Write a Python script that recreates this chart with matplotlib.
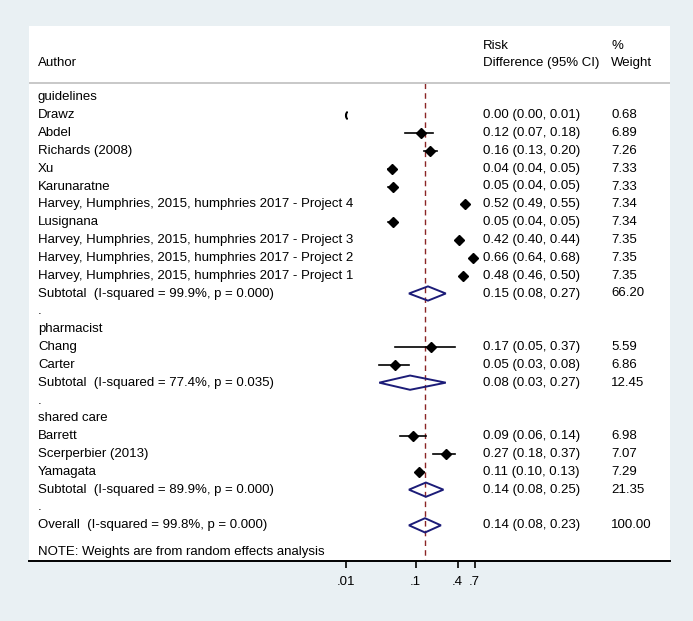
import numpy as np
import matplotlib
matplotlib.use("Agg")
import matplotlib.pyplot as plt
import matplotlib.transforms as mtransforms

plt.rcParams['font.family'] = ['Liberation Sans', 'DejaVu Sans']

# ---- data ----
labels = [
    "guidelines", "Drawz", "Abdel", "Richards (2008)", "Xu", "Karunaratne",
    "Harvey, Humphries, 2015, humphries 2017 - Project 4", "Lusignana",
    "Harvey, Humphries, 2015, humphries 2017 - Project 3",
    "Harvey, Humphries, 2015, humphries 2017 - Project 2",
    "Harvey, Humphries, 2015, humphries 2017 - Project 1",
    "Subtotal  (I-squared = 99.9%, p = 0.000)", ".",
    "pharmacist", "Chang", "Carter",
    "Subtotal  (I-squared = 77.4%, p = 0.035)", ".",
    "shared care", "Barrett", "Scerperbier (2013)", "Yamagata",
    "Subtotal  (I-squared = 89.9%, p = 0.000)", ".",
    "Overall  (I-squared = 99.8%, p = 0.000)",
]
# row type: h = group heading, s = study, d = pooled diamond, b = blank
kinds = ["h", "s", "s", "s", "s", "s", "s", "s", "s", "s", "s", "d", "b",
         "h", "s", "s", "d", "b",
         "h", "s", "s", "s", "d", "b",
         "d"]
es = [None, 0.004, 0.118, 0.16, 0.045, 0.047, 0.515, 0.047, 0.42, 0.66, 0.48, 0.15, None,
      None, 0.166, 0.05, 0.083, None,
      None, 0.09, 0.27, 0.11, 0.14, None,
      0.136]
lo = [None, 0.002, 0.07, 0.13, 0.04, 0.04, 0.49, 0.04, 0.40, 0.64, 0.46, 0.08, None,
      None, 0.05, 0.03, 0.03, None,
      None, 0.06, 0.18, 0.10, 0.08, None,
      0.08]
hi = [None, 0.01, 0.18, 0.20, 0.05, 0.05, 0.55, 0.05, 0.44, 0.68, 0.50, 0.27, None,
      None, 0.37, 0.08, 0.27, None,
      None, 0.14, 0.37, 0.13, 0.25, None,
      0.23]
ci_text = ["", "0.00 (0.00, 0.01)", "0.12 (0.07, 0.18)", "0.16 (0.13, 0.20)",
           "0.04 (0.04, 0.05)", "0.05 (0.04, 0.05)", "0.52 (0.49, 0.55)",
           "0.05 (0.04, 0.05)", "0.42 (0.40, 0.44)", "0.66 (0.64, 0.68)",
           "0.48 (0.46, 0.50)", "0.15 (0.08, 0.27)", "",
           "", "0.17 (0.05, 0.37)", "0.05 (0.03, 0.08)", "0.08 (0.03, 0.27)", "",
           "", "0.09 (0.06, 0.14)", "0.27 (0.18, 0.37)", "0.11 (0.10, 0.13)",
           "0.14 (0.08, 0.25)", "",
           "0.14 (0.08, 0.23)"]
weights = ["", "0.68", "6.89", "7.26", "7.33", "7.33", "7.34", "7.34", "7.35",
           "7.35", "7.35", "66.20", "",
           "", "5.59", "6.86", "12.45", "",
           "", "6.98", "7.07", "7.29", "21.35", "",
           "100.00"]
overall_es = 0.136
xticks = [0.01, 0.1, 0.4, 0.7]
xtick_labels = [".01", ".1", ".4", ".7"]

# ---- figure ----
W, H = 693, 621
fig = plt.figure(figsize=(W / 100, H / 100), dpi=100)
fig.patch.set_facecolor("#e9f0f3")

px_l, px_r, px_t, px_b = 29, 670, 26, 561
ax = fig.add_axes([px_l / W, 1 - px_b / H, (px_r - px_l) / W, (px_b - px_t) / H])
ax.set_facecolor("white")
ax.set_xscale("log")
# .1 sits at 415.7px, one decade = 69.7px
dec = 69.7
ax.set_xlim(10 ** (-1 - (415.7 - px_l) / dec), 10 ** (-1 + (px_r - 415.7) / dec))
ax.set_ylim(26.0, -4.0)

for s in ["top", "left", "right"]:
    ax.spines[s].set_visible(False)
ax.spines["bottom"].set_linewidth(1.4)
ax.set_yticks([])
ax.set_xticks(xticks)
ax.set_xticklabels(xtick_labels, fontsize=9.5)
ax.xaxis.set_minor_locator(matplotlib.ticker.NullLocator())
ax.tick_params(axis="x", direction="out", length=5, width=1.2, pad=6)

tr = mtransforms.blended_transform_factory(ax.transAxes, ax.transData)
fs = 9.5

# headers
ax.text(0.014, -1.9, "Author", transform=tr, fontsize=fs, va="center")
ax.text(0.708, -2.9, "Risk", transform=tr, fontsize=fs, va="center")
ax.text(0.708, -1.9, "Difference (95% CI)", transform=tr, fontsize=fs, va="center")
ax.text(0.908, -2.9, "%", transform=tr, fontsize=fs, va="center")
ax.text(0.908, -1.9, "Weight", transform=tr, fontsize=fs, va="center")
ax.plot([0, 1], [-0.8, -0.8], transform=tr, color="#c8c8c8", lw=1.4)

# reference line at overall estimate
ax.plot([overall_es, overall_es], [-0.8, 26.0], color="#8b2525", lw=1.0,
        ls=(0, (4, 3)), zorder=1)

xmin_plot = xticks[0]
for i, lab in enumerate(labels):
    ax.text(0.014, i, lab, transform=tr, fontsize=fs, va="center")
    ax.text(0.708, i, ci_text[i], transform=tr, fontsize=fs, va="center")
    ax.text(0.908, i, weights[i], transform=tr, fontsize=fs, va="center")
    if kinds[i] == "s":
        if es[i] < xmin_plot:
            # estimate off the left end of the scale: arrow-like bracket
            ax.plot([xmin_plot], [i], marker="$($", color="black", ms=5, zorder=3)
            continue
        ax.plot([lo[i], hi[i]], [i, i], color="black", lw=1.2, zorder=2)
        ax.plot([es[i]], [i], marker="D", color="black", ms=5, zorder=3)
    elif kinds[i] == "d":
        dh = 0.4
        ax.fill([lo[i], es[i], hi[i], es[i], lo[i]],
                [i, i - dh, i, i + dh, i],
                facecolor="none", edgecolor="#1c1c78", lw=1.4, zorder=3)

ax.text(0.014, 25.5, "NOTE: Weights are from random effects analysis",
        transform=tr, fontsize=fs, va="center")

fig.savefig("out.png", dpi=100, facecolor=fig.get_facecolor())
